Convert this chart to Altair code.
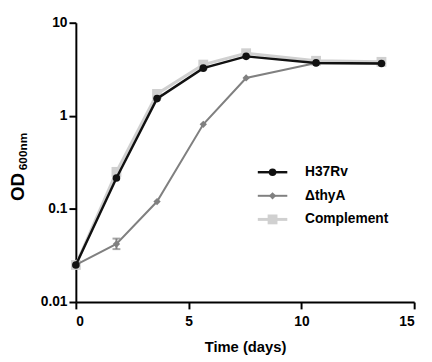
import altair as alt
import pandas as pd

days_h = [0, 1.8, 3.6, 5.65, 7.55, 10.65, 13.55]
h37rv = [0.025, 0.215, 1.53, 3.25, 4.35, 3.7, 3.65]
days_t = [0, 1.8, 3.6, 5.65, 7.55, 10.65, 13.55]
thya = [0.025, 0.042, 0.12, 0.81, 2.55, 3.7, 3.65]
days_c = [0, 1.8, 3.6, 5.65, 7.55, 10.65, 13.55]
comp = [0.025, 0.25, 1.72, 3.55, 4.7, 3.9, 3.8]
err_day = [1.8]
err_lo = [0.037]
err_hi = [0.048]

series = ["H37Rv", "\u0394thyA", "Complement"]
colors = ["#111111", "#808080", "#d0d0d0"]
shapes = ["circle", "diamond", "square"]
sizes = [60, 55, 100]
widths = [2.5, 2, 3]

df_h = pd.DataFrame({"day": days_h, "od": h37rv})
df_t = pd.DataFrame({"day": days_t, "od": thya})
df_c = pd.DataFrame({"day": days_c, "od": comp})
df_e = pd.DataFrame({"day": err_day, "lo": err_lo, "hi": err_hi})

FONT = "Liberation Sans"

xscale = alt.Scale(domain=[0, 15], nice=False)
yscale = alt.Scale(type="log", domain=[0.01, 10], nice=False)

xax = alt.Axis(values=[0, 5, 10, 15], title="Time (days)", grid=False,
               labelFont=FONT, labelFontWeight="bold", labelFontSize=14,
               titleFont=FONT, titleFontWeight="bold", titleFontSize=15,
               titlePadding=11, domainWidth=2, domainColor="black",
               tickWidth=2, tickColor="black", tickSize=7, labelColor="black",
               titleColor="black", labelPadding=6)
yax = alt.Axis(values=[0.01, 0.1, 1, 10], format="~g", title=None, grid=False,
               labelFont=FONT, labelFontWeight="bold", labelFontSize=14,
               domainWidth=2, domainColor="black", tickWidth=2,
               tickColor="black", tickSize=7, labelColor="black", labelPadding=2)


def series_layer(df, i):
    base = alt.Chart(df).encode(
        x=alt.X("day:Q", scale=xscale, axis=xax),
        y=alt.Y("od:Q", scale=yscale, axis=yax),
    )
    line = base.mark_line(color=colors[i], strokeWidth=widths[i])
    pts = base.mark_point(shape=shapes[i], size=sizes[i], filled=True,
                          color=colors[i], opacity=1)
    return line + pts


comp_l = series_layer(df_c, 2)
thya_l = series_layer(df_t, 1)
h_l = series_layer(df_h, 0)

err = alt.Chart(df_e).mark_errorbar(ticks=alt.TickConfig(size=8, thickness=2), color="#808080",
                                     thickness=2).encode(
    x=alt.X("day:Q", scale=xscale, axis=xax),
    y=alt.Y("lo:Q", scale=yscale, axis=yax),
    y2="hi:Q",
)

# legend (pixel-placed decoration)
one = pd.DataFrame({"k": [0]})
leg_rows = [152, 176, 200]
leg_layers = []
for i, name in enumerate(series):
    ly = leg_rows[i]
    leg_layers.append(alt.Chart(one).mark_rule(strokeWidth=widths[i], color=colors[i]).encode(
        x=alt.value(185), x2=alt.value(215), y=alt.value(ly)))
    leg_layers.append(alt.Chart(one).mark_point(filled=True, opacity=1, size=sizes[i],
                                                shape=shapes[i], color=colors[i]).encode(
        x=alt.value(200), y=alt.value(ly)))
    leg_layers.append(alt.Chart(one).mark_text(align="left", baseline="middle", font=FONT,
                                               fontWeight="bold", fontSize=14,
                                               color="black").encode(
        x=alt.value(233), y=alt.value(ly), text=alt.value(name)))

# y title OD600nm
yt1 = alt.Chart(one).mark_text(
    angle=270, font=FONT, fontWeight="bold", fontSize=19, color="black",
    baseline="middle", align="center").encode(
    x=alt.value(-59), y=alt.value(167), text=alt.value("OD"))
yt2 = alt.Chart(one).mark_text(
    angle=270, font=FONT, fontWeight="bold", fontSize=12, color="black",
    baseline="middle", align="center").encode(
    x=alt.value(-54), y=alt.value(131), text=alt.value("600nm"))

chart = alt.layer(comp_l, thya_l, err, h_l, *leg_layers, yt1, yt2).properties(
    width=344, height=284,
    autosize=alt.AutoSizeParams(type="none"),
    padding={"left": 69, "top": 12, "right": 10, "bottom": 56},
    background="white",
).configure_view(stroke=None)

chart.save("out.html", embed_options={"renderer": "svg", "actions": False})
